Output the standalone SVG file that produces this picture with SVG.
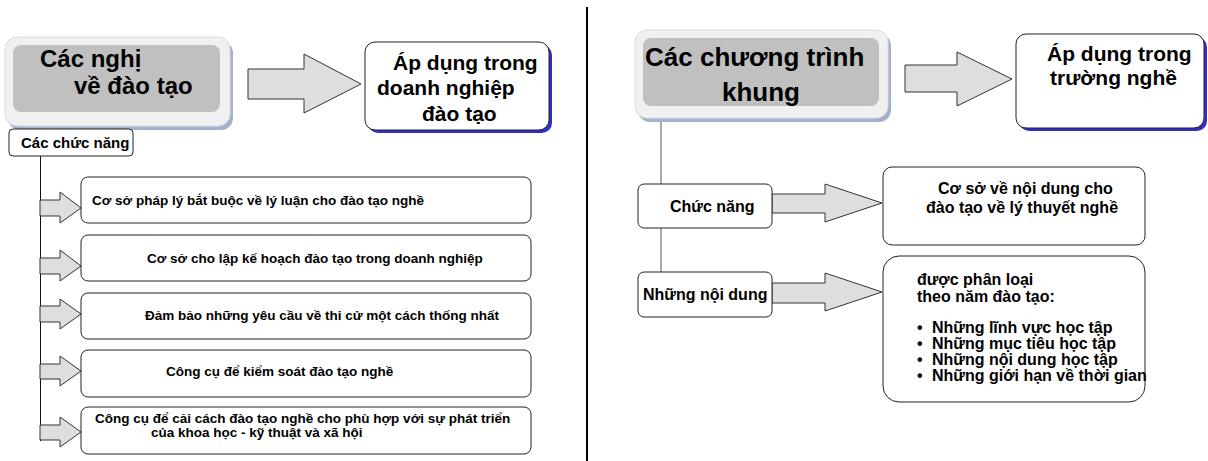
<svg xmlns="http://www.w3.org/2000/svg" width="1208" height="461" viewBox="0 0 1208 461">
<style>
text{font-family:"Liberation Sans",Arial,sans-serif;font-weight:bold;fill:#000}
.box{fill:#fff;stroke:#222;stroke-width:1}
.arrow{fill:#dedede;stroke:#333;stroke-width:1;stroke-linejoin:miter}
.tshadow{fill:#a3b2cc}
.touter{fill:#f0f0f0;stroke:#dcdcdc;stroke-width:1}
.tinner{fill:#c0c0c0}
.bshadow{fill:#3030c8}
.t13{font-size:13.5px}
.t15{font-size:15px}
.t16{font-size:16px}
.t21{font-size:21px}
</style>
<rect width="1208" height="461" fill="#fff"/>
<g id="connectors">
<line x1="40.5" y1="108" x2="40.5" y2="129" stroke="#111" stroke-width="1"/>
<line x1="40.5" y1="156" x2="40.5" y2="441" stroke="#111" stroke-width="1"/>
<line x1="661" y1="106" x2="661" y2="184" stroke="#555" stroke-width="1"/>
<line x1="661" y1="228" x2="661" y2="272" stroke="#555" stroke-width="1"/>
<line x1="587" y1="7" x2="587" y2="461" stroke="#000" stroke-width="2"/>
<polygon class="arrow" points="248,69 304,69 304,54 361,84 304,113 304,99 248,99"/>
<polygon class="arrow" points="905,65 957,65 957,52 1012,79 957,106 957,92 905,92"/>
<polygon class="arrow" points="772,194 825,194 825,184 882,203 825,222 825,213 772,213"/>
<polygon class="arrow" points="772,283 825,283 825,273 882,292 825,311 825,303 772,303"/>
<polygon class="arrow" points="40,200 60,200 60,192 81,208 60,223 60,216 40,216"/>
<polygon class="arrow" points="40,258 60,258 60,250 81,266 60,281 60,274 40,274"/>
<polygon class="arrow" points="40,306 60,306 60,299 81,314 60,329 60,322 40,322"/>
<polygon class="arrow" points="40,364 60,364 60,356 81,371 60,386 60,379 40,379"/>
<polygon class="arrow" points="40,425 60,425 60,417 81,432 60,447 60,440 40,440"/>
</g>
<g id="title-left">
<rect class="tshadow" x="8" y="41" width="225" height="89" rx="12"/>
<rect class="touter" x="5" y="37" width="225" height="89" rx="12"/>
<rect class="tinner" x="13" y="45" width="207" height="67" rx="8"/>
<text x="40" y="67" style="font-size:24px">Các nghị</text>
<text x="74" y="94" style="font-size:24px">về đào tạo</text>
</g>
<g id="apply-left">
<rect class="bshadow" x="368" y="45" width="184" height="88" rx="10"/>
<rect class="box" x="365" y="42" width="184" height="88" rx="10"/>
<text class="t21" x="393" y="70">Áp dụng trong</text>
<text class="t21" x="377" y="95">doanh nghiệp</text>
<text class="t21" x="422" y="121">đào tạo</text>
</g>
<g id="functions-left">
<rect class="box" x="9" y="129" width="124" height="27" rx="4"/>
<text class="t15" x="21" y="148">Các chức năng</text>
</g>
<g id="item1">
<rect class="box" x="81" y="177" width="450" height="46" rx="7"/>
<text class="t13" x="92" y="205">Cơ sở pháp lý bắt buộc về lý luận cho đào tạo nghề</text>
</g>
<g id="item2">
<rect class="box" x="81" y="235" width="450" height="46" rx="7"/>
<text class="t13" x="147" y="263">Cơ sở cho lập kế hoạch đào tạo trong doanh nghiệp</text>
</g>
<g id="item3">
<rect class="box" x="81" y="293" width="450" height="46" rx="7"/>
<text class="t13" x="145" y="320">Đảm bảo những yêu cầu về thi cử một cách thống nhất</text>
</g>
<g id="item4">
<rect class="box" x="81" y="350" width="450" height="47" rx="7"/>
<text class="t13" x="166" y="376">Công cụ để kiểm soát đào tạo nghề</text>
</g>
<g id="item5">
<rect class="box" x="81" y="407" width="450" height="47" rx="7"/>
<text class="t13" x="95" y="423">Công cụ để cải cách đào tạo nghề cho phù hợp với sự phát triển</text>
<text class="t13" x="151" y="437">của khoa học - kỹ thuật và xã hội</text>
</g>
<g id="title-right">
<rect class="tshadow" x="638" y="34" width="253" height="88" rx="12"/>
<rect class="touter" x="635" y="30" width="253" height="88" rx="12"/>
<rect class="tinner" x="643" y="38" width="236" height="68" rx="8"/>
<text x="645" y="66" style="font-size:26px">Các chương trình</text>
<text x="722" y="101" style="font-size:26px">khung</text>
</g>
<g id="apply-right">
<rect class="bshadow" x="1019" y="37" width="188" height="94" rx="10"/>
<rect class="box" x="1016" y="34" width="188" height="94" rx="10"/>
<text class="t21" x="1047" y="61">Áp dụng trong</text>
<text class="t21" x="1050" y="85">trường nghề</text>
</g>
<g id="function-right">
<rect class="box" x="638" y="184" width="134" height="44" rx="6"/>
<text class="t16" x="670" y="212">Chức năng</text>
</g>
<g id="content-right">
<rect class="box" x="638" y="272" width="134" height="45" rx="6"/>
<text class="t16" x="643" y="300">Những nội dung</text>
</g>
<g id="function-desc">
<rect class="box" x="883" y="167" width="262" height="78" rx="9"/>
<text class="t16" x="938" y="194">Cơ sở về nội dung cho</text>
<text class="t16" x="926" y="213">đào tạo về lý thuyết nghề</text>
</g>
<g id="content-desc">
<rect class="box" x="883" y="256" width="262" height="146" rx="16"/>
<text class="t16" x="917" y="285">được phân loại</text>
<text class="t16" x="917" y="302">theo năm đào tạo:</text>
<text class="t16" x="917" y="333">•</text>
<text class="t16" x="932" y="333">Những lĩnh vực học tập</text>
<text class="t16" x="917" y="349">•</text>
<text class="t16" x="932" y="349">Những mục tiêu học tập</text>
<text class="t16" x="917" y="365">•</text>
<text class="t16" x="932" y="365">Những nội dung học tập</text>
<text class="t16" x="917" y="381">•</text>
<text class="t16" x="932" y="381">Những giới hạn về thời gian</text>
</g>
</svg>
